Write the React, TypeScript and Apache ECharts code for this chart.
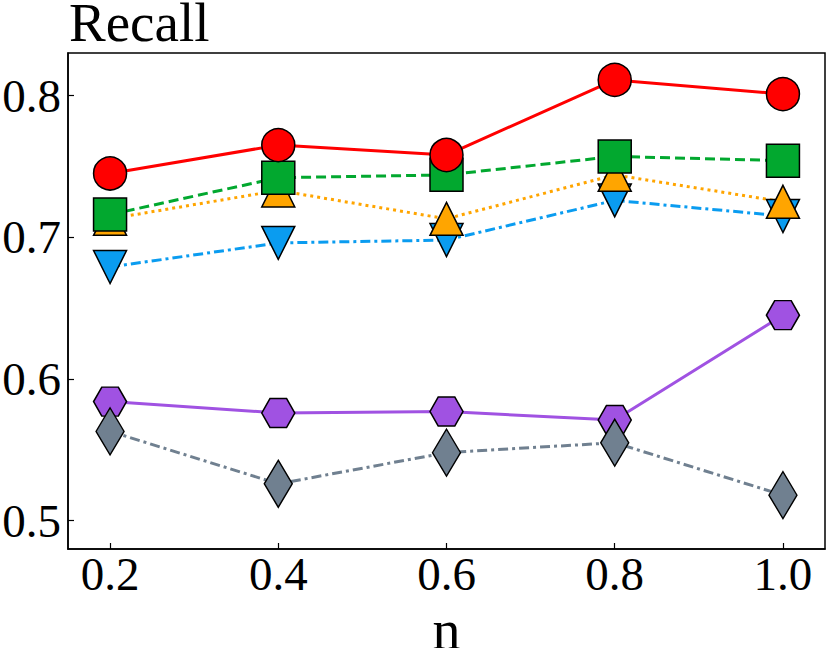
import React, { useEffect, useRef } from "react";
import * as echarts from "echarts";

const xValues = [0.2, 0.4, 0.6, 0.8, 1.0];
const xTicks = [0.2, 0.4, 0.6, 0.8, 1.0];
const yTicks = [0.5, 0.6, 0.7, 0.8];

const redValues = [0.745, 0.765, 0.758, 0.811, 0.801];
const greenValues = [0.716, 0.742, 0.744, 0.757, 0.754];
const orangeValues = [0.713, 0.733, 0.713, 0.744, 0.725];
const blueValues = [0.679, 0.696, 0.698, 0.726, 0.715];
const purpleValues = [0.584, 0.576, 0.577, 0.571, 0.645];
const grayValues = [0.563, 0.526, 0.548, 0.555, 0.518];

const FONT = "'Liberation Serif', 'DejaVu Serif', serif";
const HEX = "path://M0,50 L25,0 L75,0 L100,50 L75,100 L25,100 Z";

function pairs(vals: number[]) {
  return xValues.map((x, i) => [x, vals[i]]);
}

export default function App() {
  const ref = useRef<HTMLDivElement>(null);
  useEffect(() => {
    if (!ref.current) return;
    const chart = echarts.init(ref.current, null, { renderer: "svg" });
    const mk = (
      name: string,
      vals: number[],
      color: string,
      lineType: any,
      symbol: string,
      symbolSize: any,
      symbolRotate = 0
    ) => ({
      name,
      type: "line",
      data: pairs(vals),
      symbol,
      symbolSize,
      symbolRotate,
      showAllSymbol: true,
      lineStyle: { color, width: 3, type: lineType },
      itemStyle: { color, borderColor: "#000", borderWidth: 1.5, opacity: 1 },
      emphasis: { disabled: true },
    });
    chart.setOption({
      animation: false,
      backgroundColor: "#fff",
      title: {
        text: "Recall",
        left: 69,
        top: 7,
        padding: 0,
        textStyle: { fontFamily: FONT, fontSize: 55, lineHeight: 30, fontWeight: "normal", color: "#000" },
      },
      grid: {
        left: 68,
        top: 53,
        right: 6,
        bottom: 99,
        containLabel: false,
        outerBoundsMode: "none",
        show: true,
        borderColor: "#000",
        borderWidth: 1.5,
        backgroundColor: "transparent",
      },
      xAxis: {
        type: "value",
        min: 0.15,
        max: 1.05,
        name: "n",
        nameLocation: "middle",
        nameGap: 58,
        nameTextStyle: { fontFamily: FONT, fontSize: 56, lineHeight: 40, color: "#000" },
        axisLine: { show: true, lineStyle: { color: "#000", width: 1.5 } },
        axisTick: { show: true, inside: true, length: 6, customValues: xTicks, lineStyle: { color: "#000", width: 1.2 } },
        axisLabel: {
          customValues: xTicks,
          formatter: (v: number) => v.toFixed(1),
          fontFamily: FONT,
          fontSize: 47,
          color: "#000",
          margin: 1,
        },
        splitLine: { show: false },
      },
      yAxis: {
        type: "value",
        min: 0.48,
        max: 0.83,
        axisLine: { show: true, lineStyle: { color: "#000", width: 1.5 } },
        axisTick: { show: true, inside: true, length: 6, customValues: yTicks, lineStyle: { color: "#000", width: 1.2 } },
        axisLabel: {
          customValues: yTicks,
          formatter: (v: number) => v.toFixed(1),
          fontFamily: FONT,
          fontSize: 47,
          color: "#000",
          margin: 7,
        },
        splitLine: { show: false },
      },
      series: [
        mk("purple", purpleValues, "#a052e2", "solid", HEX, [33, 29]),
        mk("gray", grayValues, "#708090", [10, 4, 3, 4], "diamond", [28, 47]),
        mk("blue", blueValues, "#0a9cf0", [10, 4, 3, 4], "triangle", [33, 33], 180),
        mk("orange", orangeValues, "#ffa500", [3, 4], "triangle", [33, 33]),
        mk("green", greenValues, "#02a82f", [10, 5], "rect", [33, 33]),
        mk("red", redValues, "#ff0000", "solid", "circle", [33, 33]),
      ],
    });
    return () => chart.dispose();
  }, []);
  return (
    <div
      ref={ref}
      style={{ position: "fixed", left: 0, top: 0, width: 831, height: 648, background: "#fff" }}
    />
  );
}
